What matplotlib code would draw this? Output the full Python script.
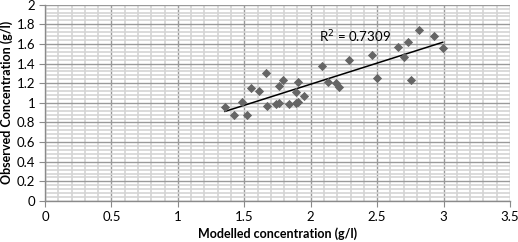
import matplotlib
matplotlib.use("Agg")
import matplotlib.pyplot as plt
import numpy as np
from matplotlib.ticker import MultipleLocator, FuncFormatter

# === DATA ===
modelled = [1.355, 1.426, 1.483, 1.520, 1.548, 1.607, 1.663, 1.672, 1.737, 1.761,
            1.761, 1.795, 1.836, 1.889, 1.904, 1.889, 1.904, 1.952, 2.083, 2.132,
            2.190, 2.215, 2.290, 2.461, 2.499, 2.655, 2.702, 2.732, 2.755, 2.817,
            2.930, 2.993]
observed = [0.954, 0.873, 1.006, 0.881, 1.149, 1.122, 1.300, 0.967, 0.985, 1.001,
            1.168, 1.229, 0.985, 1.001, 1.008, 1.112, 1.214, 1.071, 1.378, 1.214,
            1.205, 1.158, 1.439, 1.484, 1.249, 1.565, 1.466, 1.616, 1.229, 1.744,
            1.683, 1.555]
r2_label = "R$^2$ = 0.7309"

plt.rcParams['font.family'] = ['Lato', 'DejaVu Sans']

fig = plt.figure(figsize=(5.18, 2.42), dpi=100)
ax = fig.add_axes([0.0869, 0.1694, 0.8977, 0.8112])

x = np.array(modelled)
y = np.array(observed)

# linear trendline over the data range
slope, intercept = np.polyfit(x, y, 1)
xs = np.array([x.min(), x.max()])
ax.plot(xs, slope * xs + intercept, color='black', lw=1.1, zorder=3)

ax.scatter(x, y, marker='D', s=22, color='#656565', zorder=4, linewidths=0)

ax.set_xlim(0, 3.5)
ax.set_ylim(0, 2)
ax.set_xticks(np.arange(0, 3.51, 0.5))
ax.set_yticks(np.arange(0, 2.01, 0.2))
ax.xaxis.set_minor_locator(MultipleLocator(0.1))
ax.yaxis.set_minor_locator(MultipleLocator(0.04))
fmt = FuncFormatter(lambda v, pos: f"{round(v, 1):g}")
ax.xaxis.set_major_formatter(fmt)
ax.yaxis.set_major_formatter(fmt)

ax.grid(which='minor', color='#d4d4d4', lw=1.2, zorder=0)
ax.grid(which='major', color='#9a9a9a', lw=1.0, zorder=1)
ax.set_axisbelow(True)

for side in ['top', 'right']:
    ax.spines[side].set_visible(False)
for side in ['left', 'bottom']:
    ax.spines[side].set_color('#8a8a8a')
    ax.spines[side].set_linewidth(1.0)

ax.tick_params(which='major', length=4, color='#8a8a8a', labelsize=9.5, pad=3)
ax.tick_params(which='minor', length=0)

ax.text(2.06, 1.67, r2_label, fontsize=9.5, va='center', ha='left')

ax.set_xlabel('Modelled concentration (g/l)', fontsize=9, fontweight='bold', labelpad=3)
ax.set_ylabel('Observed Concentration (g/l)', fontsize=9, fontweight='bold', labelpad=3)

fig.savefig('out.png', dpi=100)
